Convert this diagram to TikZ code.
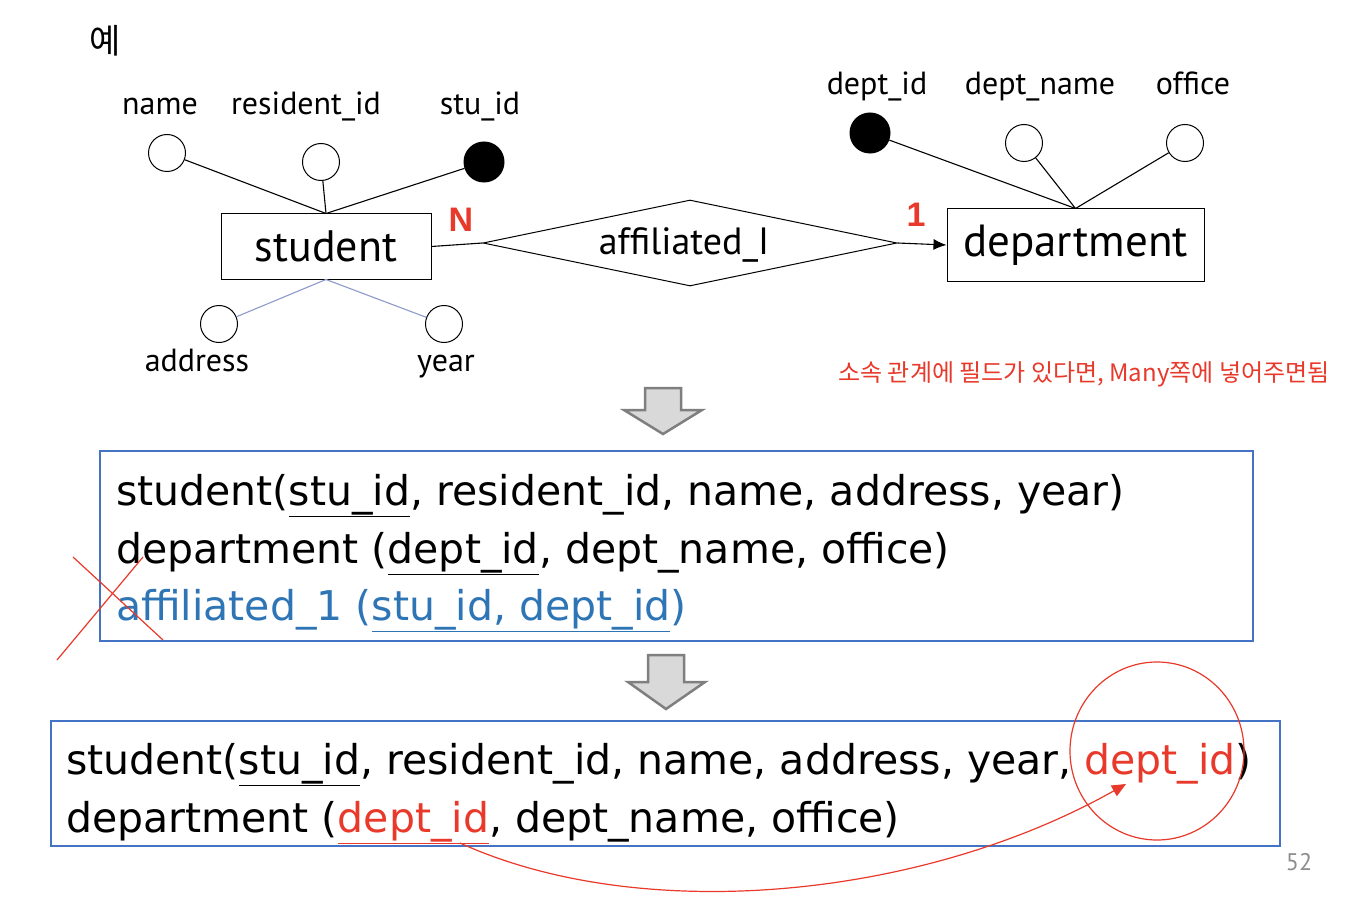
\documentclass[tikz,border=0pt]{standalone}
\usepackage{fontspec}
\setmainfont{PT Sans}
\newfontfamily\krfont{Noto Sans CJK KR}
\newfontfamily\arialfont{Liberation Sans}
\newfontfamily\relfont{DejaVu Sans}
\usetikzlibrary{shapes.geometric,arrows.meta}
\definecolor{boxblue}{HTML}{4472C4}
\definecolor{txtblue}{HTML}{2E75B6}
\definecolor{myred}{HTML}{E8392A}
\definecolor{linkblue}{HTML}{8C9BCB}
\definecolor{arrowgray}{HTML}{D9D9D9}
\definecolor{arrowedge}{HTML}{7F7F7F}
\definecolor{pagegray}{HTML}{8C8C8C}
\newcommand\fsz[1]{\fontsize{#1}{#1}\selectfont}
\begin{document}
\begin{tikzpicture}[x=1pt,y=-1pt,
  attr/.style={circle, draw, line width=1pt, minimum size=37pt, inner sep=0pt},
  keyattr/.style={attr, fill=black},
  lbl/.style={font=\fsz{32}, inner sep=0pt, anchor=base},
  entity/.style={draw, line width=1pt, inner sep=0pt},
  erline/.style={line width=1.1pt},
  card/.style={font=\arialfont\bfseries\fsz{34}, text=myred, inner sep=0pt, anchor=base},
  relbox/.style={draw=boxblue, line width=1.2pt, inner sep=0pt},
  reltext/.style={font=\relfont\fsz{41}, inner sep=0pt, anchor=base west},
  blockarrow/.style={fill=arrowgray, draw=arrowedge, line width=2.5pt, line join=miter},
  redmark/.style={draw=myred, line width=1.2pt}
]
\useasboundingbox (0,0) rectangle (1352,904);
\fill[white] (0,0) rectangle (1352,904);

% title
\node[font=\krfont\fsz{34}, inner sep=0pt] (title) at (105,41) {예};

% student entity and attributes
\node[entity, minimum width=210pt, minimum height=65pt, font=\fsz{44}] (student) at (326,246.5) {student};
\node[attr] (aname) at (167,153) {};
\node[attr] (ares) at (321,162) {};
\node[keyattr, minimum height=40pt] (astu) at (484,162) {};
\node[attr] (aaddr) at (219,324) {};
\node[attr] (ayear) at (444,324) {};
\node[lbl] (lname) at (160,115) {name};
\node[lbl] (lres) at (306,115) {resident\_id};
\node[lbl] (lstu) at (480,115) {stu\_id};
\node[lbl] (laddr) at (197,371) {address};
\node[lbl] (lyear) at (446,371) {year};
\draw[erline] (aname) -- (student.north);
\draw[erline] (ares) -- (student.north);
\draw[erline] (astu) -- (student.north);
\draw[erline, linkblue] (aaddr) -- (student.south);
\draw[erline, linkblue] (ayear) -- (student.south);

% relationship
\node[diamond, draw, line width=1pt, aspect=4.8, minimum width=414pt, minimum height=86pt, inner sep=0pt] (rel) at (690,243) {};
\node[font=\fsz{38}, inner sep=0pt] (reltxt) at (684,245) {affiliated\_I};
\draw[erline] (student.east) -- (rel.west);

% department entity and attributes
\node[entity, minimum width=257pt, minimum height=72pt, font=\fsz{45}] (dept) at (1075.5,245) {department};
\draw[erline, -{Latex[length=13pt,width=11pt]}] (rel.east) -- (dept.west);
\node[keyattr, minimum height=40pt] (adid) at (870,133) {};
\node[attr] (adname) at (1024,143) {};
\node[attr] (aoffice) at (1185,143) {};
\node[lbl] (ldid) at (877,95) {dept\_id};
\node[lbl] (ldname) at (1040,95) {dept\_name};
\node[lbl] (loffice) at (1193,95) {office};
\draw[erline] (adid) -- (dept.north);
\draw[erline] (adname) -- (dept.north);
\draw[erline] (aoffice) -- (dept.north);

% cardinalities
\node[card] (cardN) at (461,232) {N};
\node[card] (card1) at (916,227) {1};

% note
\node[font=\krfont\fsz{24}, text=myred, inner sep=0pt] (note) at (1084,374) {소속 관계에 필드가 있다면, Many쪽에 넣어주면됨};

% block arrow 1
\draw[blockarrow] (645,388) -- (681,388) -- (681,410) -- (702,410) -- (663,434) -- (624,410) -- (645,410) -- cycle;

% relation box 1
\node[relbox, minimum width=1153pt, minimum height=190pt] (box1) at (676.5,546) {};
\node[reltext] (r1a) at (116,505) {student(\underline{stu\_id}, resident\_id, name, address, year)};
\node[reltext] (r1b) at (116,563) {department (\underline{dept\_id}, dept\_name, office)};
\node[reltext, text=txtblue] (r1c) at (116,620) {affiliated\_1 (\underline{stu\_id, dept\_id})};

% red cross
\coordinate (xa1) at (57,660);
\coordinate (xa2) at (143,557);
\coordinate (xb1) at (73,557);
\coordinate (xb2) at (163,640);
\draw[redmark] (xa1) -- (xa2);
\draw[redmark] (xb1) -- (xb2);

% block arrow 2
\draw[blockarrow] (648,655) -- (684,655) -- (684,682) -- (705,682) -- (666,709) -- (628,682) -- (648,682) -- cycle;

% relation box 2
\node[relbox, minimum width=1229pt, minimum height=125pt] (box2) at (665.5,783.5) {};
\node[reltext] (r2a) at (66,774) {student(\underline{stu\_id}, resident\_id, name, address, year, \textcolor{myred}{dept\_id})};
\node[reltext] (r2b) at (66,832) {department (\textcolor{myred}{\underline{dept\_id}}, dept\_name, office)};

% red ellipse and arrow
\node[ellipse, draw=myred, line width=1.2pt, minimum width=174pt, minimum height=178pt, inner sep=0pt] (circ) at (1157,751) {};
\coordinate (cs) at (460,843);
\coordinate (ce) at (1126,784);
\draw[redmark, -{Triangle[length=14pt,width=12pt]}] (cs) .. controls (640,925) and (920,900) .. (ce);

% page number
\node[font=\fsz{24}, text=pagegray, inner sep=0pt] (page) at (1299,862) {52};
\end{tikzpicture}
\end{document}
